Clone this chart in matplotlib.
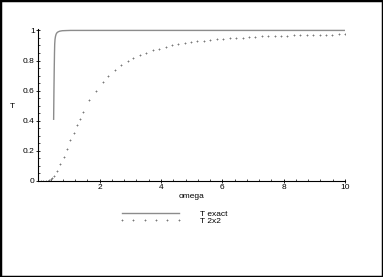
import matplotlib
matplotlib.use("Agg")
import matplotlib.pyplot as plt
from matplotlib.patches import Rectangle
from matplotlib.ticker import MultipleLocator, FixedLocator

# exact transmission curve
exact_omega = [0.500, 0.510, 0.520, 0.528, 0.535, 0.545, 0.560, 0.580, 0.610,
               0.650, 0.700, 0.780, 0.900, 1.050, 1.500, 3.000, 10.00]
exact_T = [0.410, 0.600, 0.750, 0.850, 0.910, 0.940, 0.960, 0.975, 0.985,
           0.991, 0.995, 0.998, 0.999, 1.000, 1.000, 1.000, 1.000]

# 2x2 approximation (sampled points)
approx_omega = [0.0, 0.08, 0.16, 0.24, 0.30, 0.36, 0.41, 0.46, 0.51, 0.62,
                0.72, 0.84, 0.95, 1.04, 1.15, 1.25, 1.35, 1.46, 1.66, 1.88,
                2.10, 2.28, 2.49, 2.70, 2.92,
                3.10, 3.31, 3.52, 3.73, 3.94, 4.15, 4.36, 4.56, 4.77, 4.98,
                5.19, 5.40, 5.61, 5.82, 6.03, 6.24, 6.45, 6.66, 6.87, 7.08,
                7.29, 7.50, 7.71, 7.91, 8.12, 8.33, 8.54, 8.75, 8.96, 9.17,
                9.38, 9.59, 9.80, 10.0]
approx_T = [0.0, 0.0, 0.0, 0.001, 0.003, 0.006, 0.010, 0.018, 0.035, 0.068,
            0.11, 0.16, 0.21, 0.27, 0.32, 0.37, 0.41, 0.456, 0.54, 0.60,
            0.66, 0.70, 0.74, 0.77, 0.80,
            0.818, 0.838, 0.852, 0.867, 0.878, 0.889, 0.900, 0.907, 0.914, 0.920,
            0.927, 0.931, 0.936, 0.940, 0.944, 0.949, 0.951, 0.953, 0.956, 0.958,
            0.960, 0.962, 0.964, 0.965, 0.966, 0.968, 0.968, 0.970, 0.970, 0.971,
            0.972, 0.972, 0.973, 0.974]

xticks = [2, 4, 6, 8, 10]
yticks = [0, 0.2, 0.4, 0.6, 0.8, 1]
ytick_labels = ["0", "0.2", "0.4", "0.6", "0.8", "1"]

plt.rcParams['font.family'] = ['Liberation Sans', 'DejaVu Sans']

fig = plt.figure(figsize=(3.83, 2.77), dpi=100)
ax = fig.add_axes([0.100, 0.3466, 0.8008, 0.549])

ax.plot(exact_omega, exact_T, color='#8c8c8c', lw=1.0, label='T exact')
ax.plot(approx_omega, approx_T, ls='none', marker='+', ms=2.0, mew=0.6,
        color='#787878', label='T 2x2')

ax.set_xlim(0, 10)
ax.set_ylim(0, 1.01)
for s in ['top', 'right']:
    ax.spines[s].set_visible(False)
for s in ['left', 'bottom']:
    ax.spines[s].set_linewidth(0.8)

ax.xaxis.set_major_locator(FixedLocator(xticks))
ax.xaxis.set_minor_locator(MultipleLocator(0.4))
ax.set_yticks(yticks)
ax.set_yticklabels(ytick_labels)
ax.yaxis.set_minor_locator(MultipleLocator(0.05))
ax.tick_params(which='major', direction='inout', length=3, width=0.6,
               labelsize=6, pad=1)
ax.tick_params(which='minor', direction='in', length=1.5, width=0.5)

ax.set_xlabel('omega', fontsize=6, labelpad=1)
ax.set_ylabel('T', fontsize=6, rotation=0, labelpad=12)
ax.yaxis.set_label_coords(-0.085, 0.47)

ax.legend(loc='upper left', bbox_to_anchor=(0.265, -0.19), frameon=False,
          fontsize=6, handlelength=7.4, handletextpad=2.2, labelspacing=-0.08,
          numpoints=6, borderpad=0, borderaxespad=0)

fig.patches.append(Rectangle((0, 0), 1, 1, transform=fig.transFigure,
                             fill=False, edgecolor='black', linewidth=2.5))

fig.savefig('out.png', dpi=100)
